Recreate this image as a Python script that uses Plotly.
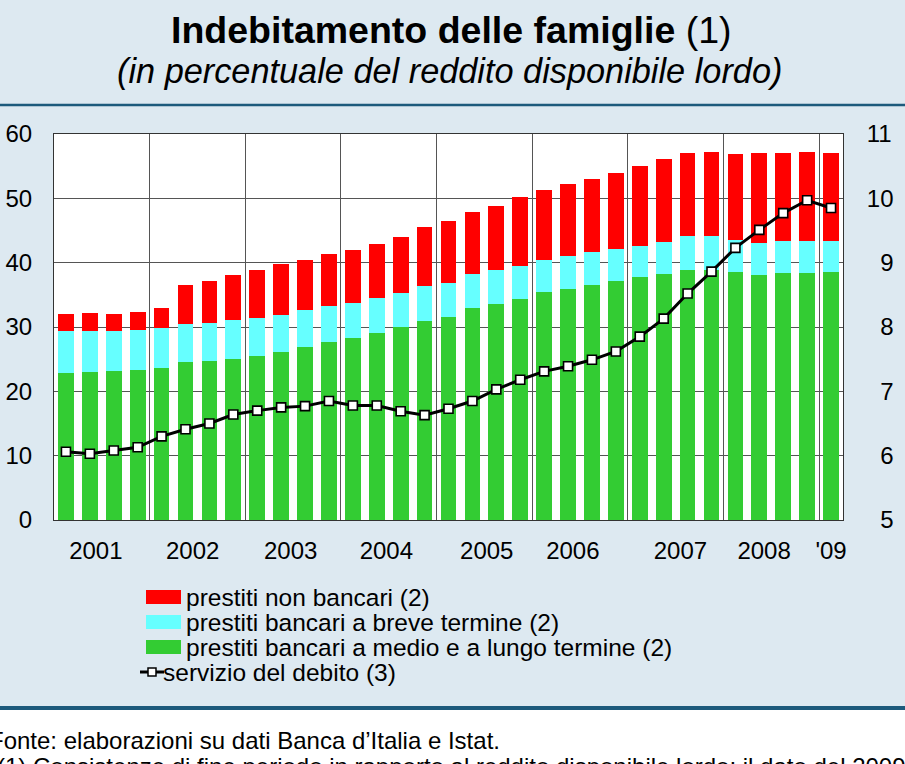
import plotly.graph_objects as go

# ---------------- data (quarterly, 2001 Q1 - 2009 Q1) ----------------
quarters = [f"{y} T{q}" for y in range(2001, 2010) for q in range(1, 5)][:33]

medio_lungo = [22.9, 23.0, 23.1, 23.3, 23.7, 24.5, 24.7, 25.1, 25.5, 26.1, 26.9,
               27.6, 28.3, 29.1, 30.0, 31.0, 31.6, 33.0, 33.6, 34.4, 35.4, 35.9,
               36.6, 37.1, 37.7, 38.3, 38.9, 38.9, 38.5, 38.1, 38.4, 38.4, 38.5]
totale_bancari = [29.35, 29.45, 29.45, 29.6, 29.9, 30.5, 30.7, 31.1, 31.4, 31.8,
                  32.6, 33.2, 33.7, 34.5, 35.3, 36.4, 36.9, 38.3, 38.8, 39.5,
                  40.45, 41.1, 41.6, 42.1, 42.6, 43.25, 44.1, 44.1, 43.45, 43.1,
                  43.3, 43.3, 43.3]
totale = [32.0, 32.15, 32.05, 32.3, 32.9, 36.55, 37.2, 38.1, 38.9, 39.8, 40.45,
          41.4, 41.9, 42.9, 44.0, 45.5, 46.4, 47.9, 48.85, 50.2, 51.3, 52.3, 53.05,
          53.9, 55.1, 56.05, 57.05, 57.25, 56.95, 57.05, 57.1, 57.2, 57.1]
servizio = [6.06, 6.03, 6.08, 6.13, 6.30, 6.41, 6.50, 6.64, 6.70, 6.75, 6.77,
            6.85, 6.78, 6.78, 6.69, 6.63, 6.73, 6.85, 7.03, 7.18, 7.31, 7.39,
            7.49, 7.62, 7.85, 8.13, 8.52, 8.86, 9.23, 9.51, 9.77, 9.97, 9.85]

breve = [round(b - m, 2) for b, m in zip(totale_bancari, medio_lungo)]
non_bancari = [round(t - b, 2) for t, b in zip(totale, totale_bancari)]

year_label_pos = [1.25, 5.3, 9.4, 13.4, 17.6, 21.2, 25.7, 29.2, 32.0]
year_labels = ["2001", "2002", "2003", "2004", "2005", "2006", "2007", "2008", "'09"]
year_bounds = [3.5, 7.5, 11.5, 15.5, 19.5, 23.5, 27.5, 31.5]

left_ticks = [0, 10, 20, 30, 40, 50, 60]
right_ticks = [5, 6, 7, 8, 9, 10, 11]

names = ["prestiti non bancari (2)",
         "prestiti bancari a breve termine (2)",
         "prestiti bancari a medio e a lungo termine (2)",
         "servizio del debito (3)"]
colors = {"red": "#ff0000", "cyan": "#66ffff", "green": "#33cc33"}

FONT = "Liberation Sans, Arial, Helvetica, sans-serif"
BG = "rgb(221,233,241)"
RULE = "#1c5a7c"

x = list(range(len(quarters)))

fig = go.Figure()
fig.add_trace(go.Bar(x=x, y=medio_lungo, name=names[2], marker_color=colors["green"],
                     marker_line_width=0, customdata=quarters))
fig.add_trace(go.Bar(x=x, y=breve, name=names[1], marker_color=colors["cyan"],
                     marker_line_width=0, customdata=quarters))
fig.add_trace(go.Bar(x=x, y=non_bancari, name=names[0], marker_color=colors["red"],
                     marker_line_width=0, customdata=quarters))
fig.add_trace(go.Scatter(x=x, y=servizio, name=names[3], yaxis="y2", mode="lines+markers",
                         line=dict(color="black", width=3),
                         marker=dict(symbol="square", size=9, color="white",
                                     line=dict(color="black", width=1.6))))

# geometry helpers for decorations (plot area: x 54..843, y 134..520 px)
L, R, T, B = 54, 843, 134, 520
def px(v):
    return (v - L) / (R - L)
def py(v):
    return (B - v) / (B - T)

shapes = [
    dict(type="rect", xref="paper", yref="paper", x0=px(-5), x1=px(910), y0=py(708), y1=py(770),
         fillcolor="white", line_width=0, layer="below"),
    dict(type="line", xref="paper", yref="paper", x0=px(-5), x1=px(910), y0=py(105), y1=py(105),
         line=dict(color=RULE, width=2.5)),
    dict(type="line", xref="paper", yref="paper", x0=px(-5), x1=px(910), y0=py(708), y1=py(708),
         line=dict(color=RULE, width=4)),
]

annotations = [
    dict(text="<b>Indebitamento delle famiglie</b> (1)", x=px(451), y=py(30), xref="paper", yref="paper",
         showarrow=False, font=dict(size=37.5, color="black", family=FONT), xanchor="center", yanchor="middle"),
    dict(text="<i>(in percentuale del reddito disponibile lordo)</i>", x=px(450), y=py(71),
         xref="paper", yref="paper", showarrow=False, font=dict(size=34.3, color="black", family=FONT),
         xanchor="center", yanchor="middle"),
    dict(text="Fonte: elaborazioni su dati Banca d’Italia e Istat.", x=px(-13), y=py(740),
         xref="paper", yref="paper", showarrow=False, font=dict(size=24, color="black", family=FONT),
         xanchor="left", yanchor="middle"),
    dict(text="(1) Consistenze di fine periodo in rapporto al reddito disponibile lordo; il dato del 2009 è stimato.",
         x=px(-5), y=py(766), xref="paper", yref="paper", showarrow=False,
         font=dict(size=24, color="black", family=FONT), xanchor="left", yanchor="middle"),
]

# custom legend
leg_y = [597, 622, 647, 672]
swatch_cols = [colors["red"], colors["cyan"], colors["green"]]
for i in range(3):
    shapes.append(dict(type="rect", xref="paper", yref="paper", x0=px(146), x1=px(181),
                       y0=py(leg_y[i] + 7), y1=py(leg_y[i] - 7), fillcolor=swatch_cols[i], line_width=0))
    annotations.append(dict(text=names[i], x=px(184), y=py(leg_y[i]), xref="paper", yref="paper",
                            showarrow=False, xanchor="left", yanchor="middle",
                            font=dict(size=24.5, color="black", family=FONT)))
shapes.append(dict(type="line", xref="paper", yref="paper", x0=px(140), x1=px(164),
                   y0=py(leg_y[3]), y1=py(leg_y[3]), line=dict(color="black", width=3)))
shapes.append(dict(type="rect", xref="paper", yref="paper", x0=px(148), x1=px(156),
                   y0=py(leg_y[3] + 4), y1=py(leg_y[3] - 4), fillcolor="white",
                   line=dict(color="black", width=1.5)))
annotations.append(dict(text=names[3], x=px(161), y=py(leg_y[3]), xref="paper", yref="paper",
                        showarrow=False, xanchor="left", yanchor="middle",
                        font=dict(size=24.5, color="black", family=FONT)))

right_text = ["\u2007" + str(v) if v < 10 else str(v) for v in right_ticks]

fig.update_layout(
    width=905, height=764,
    margin=dict(l=L, r=905 - R, t=T, b=764 - B, pad=0),
    paper_bgcolor=BG, plot_bgcolor="white",
    barmode="stack", bargap=0.34,
    showlegend=False,
    font=dict(family=FONT, size=24, color="black"),
    xaxis=dict(range=[-0.5, 32.5], tickmode="array", tickvals=year_label_pos, ticktext=year_labels,
               showgrid=False, ticks="outside", ticklen=9, tickcolor="rgba(0,0,0,0)",
               showline=True, linecolor="#333", linewidth=1, mirror=True, zeroline=False,
               automargin=False,
               minor=dict(tickmode="array", tickvals=year_bounds, showgrid=True,
                          gridcolor="#555", gridwidth=1, ticks=""),
               tickfont=dict(size=24)),
    yaxis=dict(range=[0, 60], tickmode="array", tickvals=left_ticks, showgrid=True,
               gridcolor="#555", gridwidth=1, zeroline=False, ticks="outside", ticklen=16,
               tickcolor="rgba(0,0,0,0)", showline=True, linecolor="#333", linewidth=1,
               mirror=True, automargin=False, tickfont=dict(size=24)),
    yaxis2=dict(range=[5, 11], tickmode="array", tickvals=right_ticks, ticktext=right_text,
                overlaying="y", side="right", showgrid=False, zeroline=False, ticks="outside",
                ticklen=18, tickcolor="rgba(0,0,0,0)", automargin=False, tickfont=dict(size=24)),
    shapes=shapes, annotations=annotations,
)

fig.write_html("out.html", config={"displayModeBar": False},
               post_script="document.body.style.margin='0px';")
